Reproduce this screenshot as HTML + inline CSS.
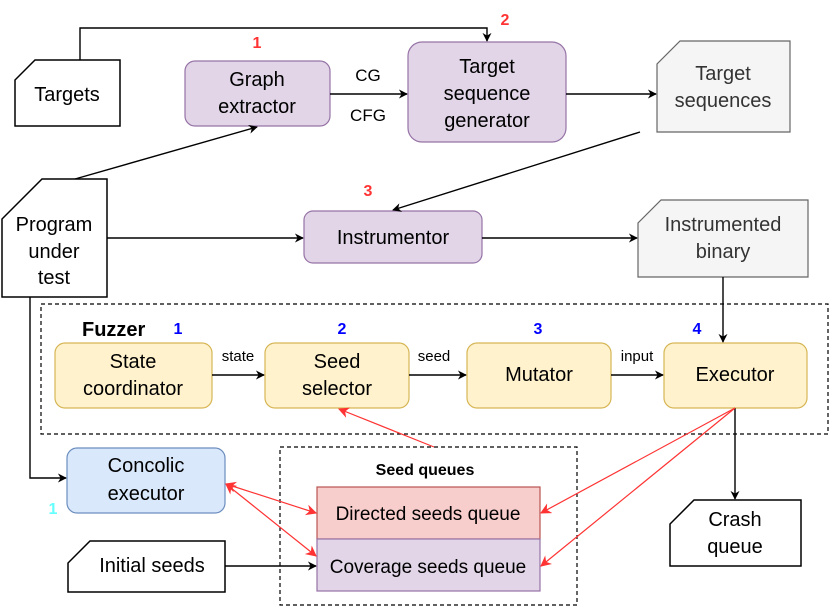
<!DOCTYPE html>
<html><head><meta charset="utf-8"><style>
html,body{margin:0;padding:0;background:#fff}
svg{display:block}
text{font-family:"Liberation Sans",Arial,sans-serif;fill:#000}
</style></head><body>
<svg width="830" height="610" viewBox="0 0 830 610" xmlns="http://www.w3.org/2000/svg">
<defs>
<marker id="a" viewBox="0 0 10 10" refX="9" refY="5" markerWidth="9" markerHeight="9" orient="auto-start-reverse" markerUnits="userSpaceOnUse"><path d="M0,0 L10,5 L0,10 L3,5 z" fill="#000"/></marker>
<marker id="r" viewBox="0 0 10 10" refX="9" refY="5" markerWidth="11" markerHeight="11" orient="auto-start-reverse" markerUnits="userSpaceOnUse"><path d="M0,0 L10,5 L0,10 L3,5 z" fill="#ff3333"/></marker>
</defs>
<g font-size="20">
<rect x="41" y="304" width="787" height="130" fill="none" stroke="#000" stroke-dasharray="4,3" stroke-width="1.2"/>
<rect x="280" y="447" width="297" height="158" fill="none" stroke="#000" stroke-dasharray="4,3" stroke-width="1.2"/>

<path d="M35,60 H120 V126 H15 V80 Z" fill="#fff" stroke="#000" stroke-width="1.5"/>
<text x="67" y="101" text-anchor="middle">Targets</text>
<rect x="185" y="61" width="145" height="65" rx="10" fill="#e1d5e7" stroke="#9673a6" stroke-width="1.2"/>
<text x="257" y="86" text-anchor="middle">Graph</text><text x="257" y="113" text-anchor="middle">extractor</text>
<rect x="408" y="42" width="158" height="100" rx="14" fill="#e1d5e7" stroke="#9673a6" stroke-width="1.2"/>
<text x="487" y="73" text-anchor="middle">Target</text><text x="487" y="100" text-anchor="middle">sequence</text><text x="487" y="127" text-anchor="middle">generator</text>
<path d="M680,41 H790 V132 H657 V64 Z" fill="#f5f5f5" stroke="#666" stroke-width="1.2"/>
<text x="723" y="80" text-anchor="middle" style="fill:#333">Target</text><text x="723" y="107" text-anchor="middle" style="fill:#333">sequences</text>
<path d="M42,179 H107 V297 H2 V219 Z" fill="#fff" stroke="#000" stroke-width="1.5"/>
<text x="54" y="231" text-anchor="middle">Program</text><text x="54" y="258" text-anchor="middle">under</text><text x="54" y="284" text-anchor="middle">test</text>
<rect x="304" y="211" width="178" height="52" rx="9" fill="#e1d5e7" stroke="#9673a6" stroke-width="1.2"/>
<text x="393" y="244" text-anchor="middle">Instrumentor</text>
<path d="M661,200 H808 V277 H638 V223 Z" fill="#f5f5f5" stroke="#666" stroke-width="1.2"/>
<text x="723" y="231" text-anchor="middle" style="fill:#333">Instrumented</text><text x="723" y="258" text-anchor="middle" style="fill:#333">binary</text>

<g fill="#fff2cc" stroke="#d6b656" stroke-width="1.2">
<rect x="55" y="343" width="157" height="65" rx="10"/>
<rect x="265" y="343" width="144" height="65" rx="10"/>
<rect x="467" y="343" width="144" height="65" rx="10"/>
<rect x="664" y="343" width="143" height="65" rx="10"/>
</g>
<text x="133" y="368" text-anchor="middle">State</text><text x="133" y="395" text-anchor="middle">coordinator</text>
<text x="337" y="368" text-anchor="middle">Seed</text><text x="337" y="395" text-anchor="middle">selector</text>
<text x="539" y="381" text-anchor="middle">Mutator</text>
<text x="735" y="381" text-anchor="middle">Executor</text>
<text x="82" y="336" font-weight="bold">Fuzzer</text>

<rect x="67" y="448" width="158" height="65" rx="10" fill="#dae8fc" stroke="#6c8ebf" stroke-width="1.2"/>
<text x="146" y="472" text-anchor="middle">Concolic</text><text x="146" y="500" text-anchor="middle">executor</text>
<rect x="317" y="487" width="223" height="52" fill="#f8cecc" stroke="#b85450" stroke-width="1.2"/>
<rect x="317" y="539" width="223" height="52" fill="#e1d5e7" stroke="#9673a6" stroke-width="1.2"/>
<text x="428" y="520" text-anchor="middle" font-size="19">Directed seeds queue</text>
<text x="428" y="573" text-anchor="middle" font-size="19">Coverage seeds queue</text>
<text x="425" y="475" text-anchor="middle" font-size="16" font-weight="bold">Seed queues</text>
<path d="M90,541 H225 V592 H68 V563 Z" fill="#fff" stroke="#000" stroke-width="1.5"/>
<text x="152" y="572" text-anchor="middle">Initial seeds</text>
<path d="M694,500 H801 V566 H670 V524 Z" fill="#fff" stroke="#000" stroke-width="1.5"/>
<text x="735" y="526" text-anchor="middle">Crash</text><text x="735" y="553" text-anchor="middle">queue</text>

<text x="368" y="81" text-anchor="middle" font-size="17">CG</text>
<text x="368" y="121" text-anchor="middle" font-size="17">CFG</text>
<text x="238" y="361" text-anchor="middle" font-size="15">state</text>
<text x="434" y="361" text-anchor="middle" font-size="15">seed</text>
<text x="637" y="361" text-anchor="middle" font-size="15">input</text>

<g font-size="16" font-weight="bold">
<text x="257" y="48" text-anchor="middle" style="fill:#ff3333">1</text>
<text x="505" y="25" text-anchor="middle" style="fill:#ff3333">2</text>
<text x="368" y="196" text-anchor="middle" style="fill:#ff3333">3</text>
<text x="178" y="334" text-anchor="middle" style="fill:#0000ff">1</text>
<text x="342" y="334" text-anchor="middle" style="fill:#0000ff">2</text>
<text x="538" y="334" text-anchor="middle" style="fill:#0000ff">3</text>
<text x="697" y="334" text-anchor="middle" style="fill:#0000ff">4</text>
<text x="53" y="514" text-anchor="middle" style="fill:#66ffff">1</text>
</g>
</g>

<g fill="none" stroke="#000" stroke-width="1.4">
<path d="M80,60 V28 H487 V41" marker-end="url(#a)"/>
<path d="M330,94 H407" marker-end="url(#a)"/>
<path d="M566,94 H656" marker-end="url(#a)"/>
<path d="M640,132 L393,210" marker-end="url(#a)"/>
<path d="M75,179 L257,127" marker-end="url(#a)"/>
<path d="M107,238 H303" marker-end="url(#a)"/>
<path d="M482,238 H637" marker-end="url(#a)"/>
<path d="M723,277 V342" marker-end="url(#a)"/>
<path d="M30,297 V478 H66" marker-end="url(#a)"/>
<path d="M212,375 H264" marker-end="url(#a)"/>
<path d="M409,375 H466" marker-end="url(#a)"/>
<path d="M611,375 H663" marker-end="url(#a)"/>
<path d="M735,408 V499" marker-end="url(#a)"/>
<path d="M225,566 H316" marker-end="url(#a)"/>
</g>
<g fill="none" stroke="#ff3333" stroke-width="1.2">
<path d="M735,408 L541,513" marker-end="url(#r)"/>
<path d="M735,408 L541,566" marker-end="url(#r)"/>
<path d="M434,447 L339,409" marker-end="url(#r)"/>
<path d="M226,484 L316,513" marker-start="url(#r)" marker-end="url(#r)"/>
<path d="M226,484 L316,556" marker-start="url(#r)" marker-end="url(#r)"/>
</g>
</svg>
</body></html>
